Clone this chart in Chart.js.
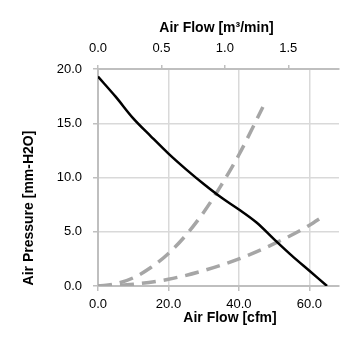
<!DOCTYPE html>
<html><head><meta charset="utf-8">
<script src="https://cdn.jsdelivr.net/npm/chart.js@4"></script>
<style>html,body{margin:0;padding:0;background:#fff}#wrap{width:355px;height:355px}</style>
</head><body><div id="wrap"><canvas id="c" width="355" height="355"></canvas></div>
<script>
// Fan curve (black) and two system impedance curves (gray dashed)
const fanFlow = [0, 5, 10, 15, 20, 25, 30, 35, 40, 45, 50, 55, 60, 65];
const fanPressure = [19.3, 17.45, 15.45, 13.8, 12.2, 10.75, 9.4, 8.15, 7.05, 5.85, 4.3, 2.8, 1.4, 0];
const sysAFlow = [0, 5, 10, 15, 20, 25, 30, 35, 40, 46.8];
const sysAPressure = [0, 0.2, 0.75, 1.7, 3.0, 4.7, 6.8, 9.3, 12.1, 16.5];
const sysBFlow = [0, 10, 20, 30, 40, 50, 60, 63.8];
const sysBPressure = [0, 0.16, 0.62, 1.42, 2.5, 3.9, 5.6, 6.4];
const cfmTicks = [0, 20, 40, 60];
const m3Ticks = [0, 0.5, 1.0, 1.5];
const pressureTicks = [0, 5, 10, 15, 20];
const titles = { top: 'Air Flow [m³/min]', bottom: 'Air Flow [cfm]', left: 'Air Pressure [mm-H2O]' };

const pts = (xs, ys) => xs.map((x, i) => ({ x: x, y: ys[i] }));
const FONT = "'Liberation Sans', Arial, sans-serif";
const GRID = '#d9d9d9', AXIS = '#bfbfbf';

const titlePlugin = {
  id: 'titles',
  afterDraw(chart) {
    const ctx = chart.ctx;
    ctx.save();
    ctx.fillStyle = '#000';
    ctx.font = 'bold 14px ' + FONT;
    ctx.textAlign = 'center';
    ctx.textBaseline = 'middle';
    ctx.fillText(titles.top, 216.5, 28);
    ctx.fillText(titles.bottom, 230, 318);
    ctx.translate(29, 208);
    ctx.rotate(-Math.PI / 2);
    ctx.fillText(titles.left, 0, 0);
    ctx.restore();
  }
};

const lineDs = (label, data, color, width, dash) => ({
  label, data, showLine: true, borderColor: color, backgroundColor: color,
  borderWidth: width, borderDash: dash, pointRadius: 0, pointHoverRadius: 0,
  cubicInterpolationMode: 'monotone', fill: false, borderCapStyle: 'butt'
});

new Chart(document.getElementById('c'), {
  type: 'scatter',
  data: {
    datasets: [
      lineDs('Fan', pts(fanFlow, fanPressure), '#000000', 2.5, []),
      lineDs('System A', pts(sysAFlow, sysAPressure), '#a6a6a6', 3.5, [14, 8]),
      lineDs('System B', pts(sysBFlow, sysBPressure), '#a6a6a6', 3.5, [14, 8])
    ]
  },
  options: {
    responsive: false, animation: false, devicePixelRatio: 1,
    layout: { padding: { left: 0, right: 16, top: 0, bottom: 0 } },
    plugins: { legend: { display: false }, tooltip: { enabled: false }, title: { display: false } },
    scales: {
      x: {
        type: 'linear', position: 'bottom', min: 0, max: 68.4,
        afterBuildTicks: s => { s.ticks = cfmTicks.map(v => ({ value: v })); },
        afterFit: s => { s.height = 69; },
        ticks: { font: { family: FONT, size: 13 }, color: '#000', padding: 6, maxRotation: 0,
                 callback: v => Number(v).toFixed(1) },
        grid: { color: GRID, lineWidth: 1.5, tickLength: 5, tickColor: AXIS },
        border: { color: AXIS, width: 2 }
      },
      x2: {
        type: 'linear', position: 'top', min: 0, max: 1.9,
        afterBuildTicks: s => { s.ticks = m3Ticks.map(v => ({ value: v })); },
        afterFit: s => { s.height = 69; },
        ticks: { font: { family: FONT, size: 13 }, color: '#000', padding: 9, maxRotation: 0,
                 callback: v => Number(v).toFixed(1) },
        grid: { drawOnChartArea: false, tickLength: 4, tickColor: AXIS, lineWidth: 1.5 },
        border: { color: AXIS, width: 2 }
      },
      y: {
        type: 'linear', position: 'left', min: 0, max: 20,
        afterBuildTicks: s => { s.ticks = pressureTicks.map(v => ({ value: v })); },
        afterFit: s => { s.width = 98; },
        ticks: { font: { family: FONT, size: 13 }, color: '#000', padding: 11,
                 callback: v => Number(v).toFixed(1) },
        grid: { color: GRID, lineWidth: 1.5, tickLength: 5, tickColor: AXIS },
        border: { color: AXIS, width: 2 }
      }
    }
  },
  plugins: [titlePlugin]
});
</script></body></html>
